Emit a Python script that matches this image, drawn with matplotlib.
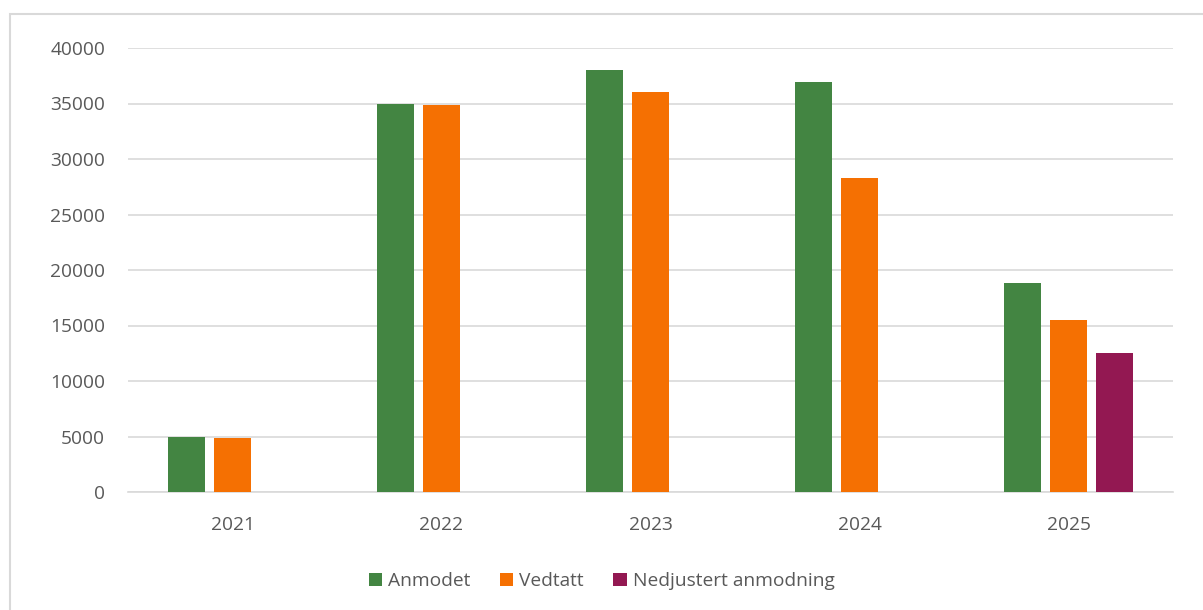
import numpy as np
import matplotlib
matplotlib.use("Agg")
import matplotlib.pyplot as plt
from matplotlib.patches import Rectangle

# data
years = ["2021", "2022", "2023", "2024", "2025"]
anmodet = [4950, 34950, 38000, 36900, 18800]
vedtatt = [4900, 34850, 36000, 28300, 15500]
nedjustert = [np.nan, np.nan, np.nan, np.nan, 12500]

plt.rcParams['font.family'] = ['Open Sans', 'DejaVu Sans']
text_col = '#595959'

fig = plt.figure(figsize=(12.03, 6.10), dpi=100)
ax = fig.add_axes([128/1203, 118/610, 1045/1203, 444/610])

# light border round the chart (only top and left fall inside the picture)
fig.patches.append(Rectangle((10/1203, -0.05), 1.1, 1.05 - 14/610, transform=fig.transFigure,
                             fill=False, edgecolor='#d9d9d9', linewidth=1.5))

x = np.arange(len(years))
w = 0.177
step = 0.22
ax.bar(x - step, anmodet, w, color='#438542', label='Anmodet', zorder=3)
ax.bar(x, vedtatt, w, color='#f57002', label='Vedtatt', zorder=3)
ax.bar(x + step, nedjustert, w, color='#931852', label='Nedjustert anmodning', zorder=3)

ax.set_xlim(-0.5, len(years) - 0.5)
ax.set_ylim(0, 40000)
ax.set_yticks(np.arange(0, 40001, 5000))
ax.set_xticks(x)
ax.set_xticklabels(years)
ax.grid(axis='y', color='#d9d9d9', linewidth=1.2, zorder=0)
for s in ['top', 'right', 'left']:
    ax.spines[s].set_visible(False)
ax.spines['bottom'].set_color('#d9d9d9')
ax.spines['bottom'].set_linewidth(1.2)
ax.tick_params(axis='both', length=0, colors=text_col, labelsize=13.8)
ax.tick_params(axis='y', pad=16.5)
ax.tick_params(axis='x', pad=17.5)

leg = fig.legend(loc='center', bbox_to_anchor=(0.5, 1 - 581/610), ncol=3, frameon=False,
                 fontsize=13.8, handlelength=0.7, handleheight=0.7, handletextpad=0.3,
                 columnspacing=1.55)
for t in leg.get_texts():
    t.set_color(text_col)

fig.savefig('out.png', dpi=100)
